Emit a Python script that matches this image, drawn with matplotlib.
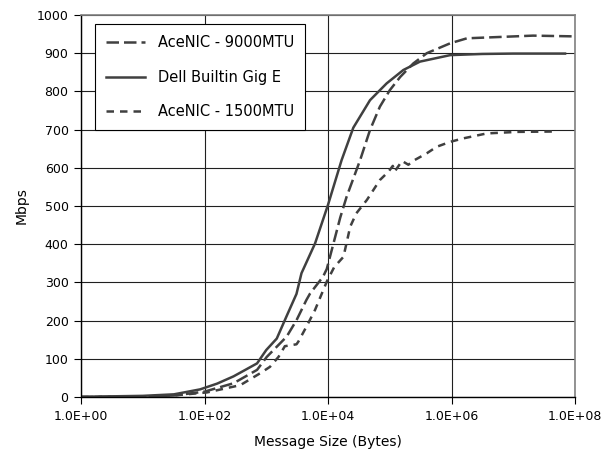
import matplotlib.pyplot as plt
from matplotlib.ticker import FixedLocator, FuncFormatter

# message sizes (bytes) and throughput (Mbps)
size_9000 = [1, 10, 32, 100, 295, 710, 1020, 2140, 3090, 4470, 5130, 8320,
             9550, 15800, 20000, 33100, 47900, 69200, 100000, 148000, 240000,
             398000, 955000, 1780000, 20900000, 100000000]
mbps_9000 = [0, 1, 4, 14, 36, 71, 105, 158, 201, 254, 271, 315,
             335, 470, 524, 620, 699, 760, 803, 838, 873,
             900, 926, 939, 946, 944]

size_dell = [1, 10, 32, 85, 160, 295, 710, 1000, 1480, 2140, 3090, 3720,
             6170, 10000, 16600, 25700, 47900, 89100, 166000, 309000,
             955000, 3160000, 10000000, 69000000]
mbps_dell = [0.5, 3, 7, 20, 35, 54, 88, 123, 153, 212, 270, 324,
             402, 503, 620, 705, 777, 821, 856, 878,
             895, 898, 899, 899]

size_1500 = [1, 10, 32, 110, 380, 794, 1150, 1580, 2000, 3090, 3310, 4470,
             6170, 9550, 12600, 17800, 22900, 28800, 42700, 69200, 95500,
             112000, 120000, 158000, 200000, 251000, 398000, 575000, 955000,
             1550000, 3720000, 11500000, 47900000]
mbps_1500 = [0, 1, 4, 12, 31, 62, 79, 105, 133, 138, 145, 184,
             228, 302, 340, 367, 446, 481, 516, 568, 590,
             605, 590, 618, 608, 620, 638, 655, 668,
             677, 690, 694, 695]

x_ticks = [1, 100, 10000, 1000000, 100000000]
y_ticks = list(range(0, 1001, 100))

line_color = '#404040'

fig = plt.figure(figsize=(6.05, 4.67), dpi=100)
ax = fig.add_axes([81 / 605, 1 - 397 / 467, 494 / 605, 382 / 467])

style = dict(color=line_color, lw=1.8, solid_joinstyle='round',
             dash_joinstyle='round')
ax.plot(size_9000, mbps_9000, linestyle=(0, (5, 2)),
        label='AceNIC - 9000MTU', **style)
ax.plot(size_dell, mbps_dell, label='Dell Builtin Gig E', **style)
ax.plot(size_1500, mbps_1500, linestyle=(0, (3, 2.4)),
        label='AceNIC - 1500MTU', **style)

ax.set_xscale('log')
ax.set_xlim(1, 1e8)
ax.set_ylim(0, 1000)
ax.xaxis.set_major_locator(FixedLocator(x_ticks))
ax.xaxis.set_minor_locator(FixedLocator([]))
ax.xaxis.set_major_formatter(FuncFormatter(lambda v, p: '%.1E' % v))
ax.set_yticks(y_ticks)

ax.grid(True, color='#202020', lw=0.8)
ax.set_axisbelow(True)
for side in ['top', 'right']:
    ax.spines[side].set_color('#808080')
    ax.spines[side].set_linewidth(1.2)
for side in ['left', 'bottom']:
    ax.spines[side].set_color('black')
    ax.spines[side].set_linewidth(1.0)

ax.tick_params(direction='out', length=5, width=0.8, labelsize=9, pad=4)
ax.set_xlabel('Message Size (Bytes)', fontsize=10, labelpad=9)
ax.set_ylabel('Mbps', fontsize=10, labelpad=6)

leg = ax.legend(loc='upper left', bbox_to_anchor=(95 / 605, 1 - 24 / 467),
                bbox_transform=fig.transFigure, fontsize=10.5, frameon=True,
                fancybox=False, framealpha=1, edgecolor='black',
                handlelength=2.7, handletextpad=0.85, labelspacing=1.35,
                borderpad=0.75, borderaxespad=0)
leg.get_frame().set_linewidth(0.8)

fig.savefig('out.png', dpi=100)
